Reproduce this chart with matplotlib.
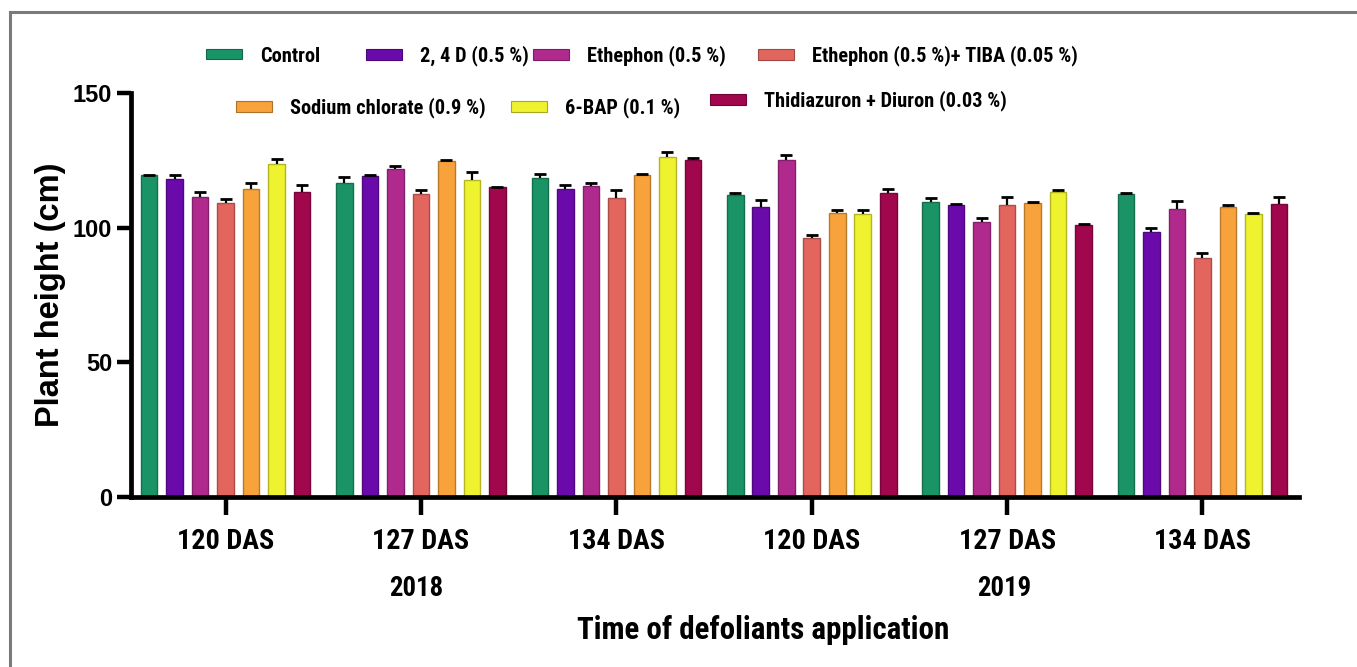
import matplotlib
matplotlib.use("Agg")
import matplotlib.pyplot as plt
import numpy as np
from matplotlib import font_manager
from matplotlib.font_manager import FontProperties
from matplotlib.lines import Line2D
from matplotlib.patches import Patch
import matplotlib.colors as mcolors

# ---------------- data ----------------
groups = ["120 DAS", "127 DAS", "134 DAS", "120 DAS", "127 DAS", "134 DAS"]
years = ["2018", "2019"]
treatments = ["Control", "2, 4 D (0.5 %)", "Ethephon (0.5 %)",
              "Ethephon (0.5 %)+ TIBA (0.05 %)", "Sodium chlorate (0.9 %)",
              "6-BAP (0.1 %)", "Thidiazuron + Diuron (0.03 %)"]
colors = ["#1a9466", "#6a0aab", "#b02a8e", "#e3665e", "#f8a23b", "#eff22f", "#a0074c"]

control     = [119.5, 116.6, 118.6, 112.0, 109.5, 112.6]
d24         = [117.9, 119.2, 114.5, 107.6, 108.6,  98.4]
ethephon    = [111.4, 121.8, 115.6, 125.3, 102.0, 107.1]
eth_tiba    = [109.2, 112.6, 111.2,  96.0, 108.6,  88.8]
sodium_chl  = [114.5, 124.8, 119.7, 105.4, 109.2, 107.7]
bap         = [123.6, 117.6, 126.3, 104.9, 113.1, 105.2]
tdz_diuron  = [113.1, 115.1, 125.3, 113.0, 100.9, 108.7]

err_control    = [0.0, 2.2, 1.5, 0.9, 1.4, 0.3]
err_d24        = [1.6, 0.3, 1.4, 2.5, 0.2, 1.5]
err_ethephon   = [1.9, 1.0, 1.1, 1.6, 1.5, 2.7]
err_eth_tiba   = [1.6, 1.2, 2.6, 1.4, 2.8, 1.7]
err_sodium_chl = [2.2, 0.2, 0.4, 1.0, 0.5, 0.6]
err_bap        = [1.9, 3.0, 1.9, 1.7, 1.0, 0.3]
err_tdz_diuron = [2.6, 0.0, 0.7, 1.5, 0.6, 2.7]

series = [control, d24, ethephon, eth_tiba, sodium_chl, bap, tdz_diuron]
errors = [err_control, err_d24, err_ethephon, err_eth_tiba, err_sodium_chl,
          err_bap, err_tdz_diuron]

# ---------------- fonts ----------------
names = {f.name for f in font_manager.fontManager.ttflist}
NARROW = "Liberation Sans"
for cand in ["Liberation Sans Narrow", "Arial Narrow", "Roboto Condensed",
             "Barlow Condensed", "Encode Sans Condensed",
             "Encode Sans Semi Condensed"]:
    if cand in names:
        NARROW = cand
        break
WIDE = "Liberation Sans"

# ---------------- figure ----------------
W, H = 1357, 667
fig = plt.figure(figsize=(W / 100, H / 100), dpi=100)
renderer = fig.canvas.get_renderer()


def fit_size(text, family, weight, target_px, base=20.0):
    prop = FontProperties(family=family, weight=weight, size=base)
    w, _, _ = renderer.get_text_width_height_descent(text, prop, ismath=False)
    return base * target_px / w


def fx(px):
    return px / W


def fy(py):
    return 1 - py / H


ax_left, ax_right, ax_top, ax_bottom = 131, 1299, 93, 497
ax = fig.add_axes([fx(ax_left), fy(ax_bottom), fx(ax_right - ax_left),
                   (ax_bottom - ax_top) / H])

x = np.arange(len(groups))
stride = 0.1305
width = 0.085
n = len(series)
for j, (vals, errs, col) in enumerate(zip(series, errors, colors)):
    pos = x + (j - (n - 1) / 2) * stride
    edge = tuple(c * 0.75 for c in mcolors.to_rgb(col))
    ax.bar(pos, vals, width=width, color=col, edgecolor=edge, linewidth=1.0,
           zorder=2, label=treatments[j])
    vals_a = np.array(vals)
    errs_a = np.array(errs)
    _, caps, _ = ax.errorbar(pos, vals_a, yerr=[np.zeros_like(errs_a), errs_a],
                             fmt="none", ecolor="black", elinewidth=1.6,
                             capsize=4.2, capthick=2.0, zorder=3)
    for c in caps:
        yd = np.asarray(c.get_ydata())
        if np.allclose(yd, vals_a) and not np.allclose(errs_a, 0):
            c.set_visible(False)

ax.set_xlim(-0.484, 5.494)
ax.set_ylim(0, 150)
ax.set_yticks([0, 50, 100, 150])
ax.set_xticks(x)
ax.set_xticklabels(groups)
for s in ["top", "right"]:
    ax.spines[s].set_visible(False)
for s in ["left", "bottom"]:
    ax.spines[s].set_linewidth(3.4)

xt_size = min(fit_size("120 DAS", NARROW, "bold", 97), 21)
ax.tick_params(axis="y", length=10, width=3.2, pad=3.5, labelsize=17)
ax.tick_params(axis="x", length=13, width=3.2, pad=9.5, labelsize=xt_size)
for lab in ax.get_yticklabels():
    lab.set_fontfamily(WIDE)
    lab.set_fontweight("bold")
for lab in ax.get_xticklabels():
    lab.set_fontfamily(NARROW)
    lab.set_fontweight("bold")

yl_size = min(fit_size("Plant height (cm)", WIDE, "bold", 264), 24)
ax.set_ylabel("Plant height (cm)", fontsize=yl_size, fontweight="bold",
              family=WIDE)
ax.yaxis.set_label_coords(fx(66 - ax_left) / fx(ax_right - ax_left), 0.5)

# year labels and x-axis title
yr_size = xt_size * 0.95
fig.text(fx(416), fy(589), years[0], ha="center", va="center", fontsize=yr_size,
         family=NARROW, fontweight="bold")
fig.text(fx(1004), fy(589), years[1], ha="center", va="center", fontsize=yr_size,
         family=NARROW, fontweight="bold")
xl_size = min(fit_size("Time of defoliants application", NARROW, "bold", 372), 25)
fig.text(fx(763), fy(630), "Time of defoliants application", ha="center",
         va="center", fontsize=xl_size, family=NARROW, fontweight="bold")

# legend entries placed individually like the original layout
leg_size = min(fit_size("Ethephon (0.5 %)+ TIBA (0.05 %)", NARROW, "bold", 265), 16.5)
leg_px = leg_size * 100 / 72
handle_pos = [(206, 56), (366, 56), (533, 56), (758, 56),
              (236, 108), (511, 108), (710, 101)]
handles = [Patch(facecolor=c, edgecolor=tuple(v * 0.7 for v in mcolors.to_rgb(c)),
                 linewidth=0.8) for c in colors]
for h, lab, (px, py) in zip(handles, treatments, handle_pos):
    fig.legend([h], [lab], loc="center left",
               bbox_to_anchor=(fx(px), fy(py)), frameon=False,
               borderpad=0, borderaxespad=0, handlelength=36 / leg_px,
               handleheight=8 / leg_px, handletextpad=18 / leg_px,
               prop={"family": NARROW, "weight": "bold", "size": leg_size})

# page frame lines (top and left)
fig.add_artist(Line2D([fx(10), 1], [fy(12), fy(12)], color="#7a7a7a", lw=2.2))
fig.add_artist(Line2D([fx(10), fx(10)], [fy(12), 0], color="#7a7a7a", lw=2.2))

fig.savefig("out.png", dpi=100)
